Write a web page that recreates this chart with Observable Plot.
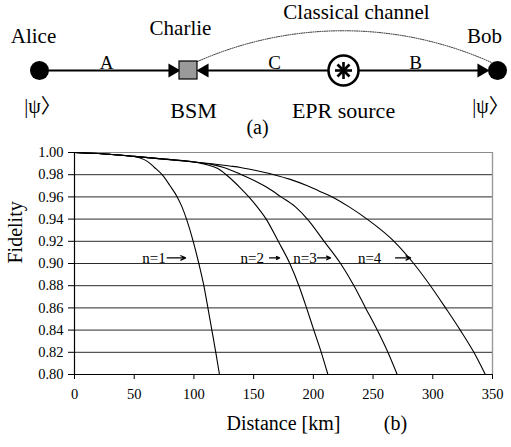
<!DOCTYPE html>
<html><head><meta charset="utf-8">
<script src="https://cdn.jsdelivr.net/npm/d3@7"></script>
<script src="https://cdn.jsdelivr.net/npm/@observablehq/plot@0.6"></script>
<style>
html,body{margin:0;padding:0;background:#fff;}
#fig{width:511px;overflow:hidden;}
#fig svg{display:block;}
#fig svg text{font-family:"Liberation Serif","Noto Sans CJK SC",serif;}
</style></head><body><div id="fig"></div>
<script>
// ---------- (b) chart data ----------
const xTicks = [0, 50, 100, 150, 200, 250, 300, 350];
const yTicks = [0.80, 0.82, 0.84, 0.86, 0.88, 0.90, 0.92, 0.94, 0.96, 0.98, 1.00];

const n1Dist = [0, 25, 40, 50, 55, 61, 67, 73.4, 80, 86, 90, 93.8, 99.4, 104.1, 108.3, 111.7, 115, 118.3, 121.4];
const n1Fid  = [1.000, 0.9987, 0.9975, 0.9964, 0.995, 0.992, 0.9865, 0.980, 0.970, 0.960, 0.951, 0.940, 0.920, 0.900, 0.880, 0.860, 0.840, 0.820, 0.800];

const n2Dist = [0, 25, 50, 75, 100, 110, 120, 127, 139, 146, 153, 160.5, 170.6, 180.3, 187.9, 194.3, 200.4, 206.6, 212.2];
const n2Fid  = [1.000, 0.9987, 0.9965, 0.994, 0.9915, 0.9893, 0.9855, 0.980, 0.968, 0.960, 0.951, 0.940, 0.920, 0.900, 0.880, 0.860, 0.840, 0.820, 0.800];

const n3Dist = [0, 25, 50, 75, 100, 115, 125, 139, 150, 162, 173, 185, 195, 209, 222.8, 234, 243.7, 253.5, 262.4, 270.2];
const n3Fid  = [1.000, 0.9987, 0.9965, 0.994, 0.9915, 0.9893, 0.9865, 0.9805, 0.975, 0.968, 0.960, 0.951, 0.940, 0.920, 0.900, 0.880, 0.860, 0.840, 0.820, 0.800];

const n4Dist = [0, 25, 50, 75, 100, 115, 130, 139, 150, 167, 180, 195, 205, 215.8, 230, 245, 257, 267.5, 284, 298, 310.7, 323, 334.4, 344];
const n4Fid  = [1.000, 0.9987, 0.9965, 0.994, 0.9915, 0.9898, 0.9878, 0.9865, 0.9842, 0.980, 0.976, 0.970, 0.9652, 0.960, 0.951, 0.940, 0.930, 0.920, 0.900, 0.880, 0.860, 0.840, 0.820, 0.800];

const seriesNames = ["n=1", "n=2", "n=3", "n=4"];
const labelDist  = [56.7, 139, 183.2, 237.3];
const arrowStart = [77.6, 163.3, 203.5, 268.8];
const arrowEnd   = [93, 171.7, 214.4, 281.4];
const labelFid = 0.905;

// ---------- (a) diagram data ----------
const topTexts = ["Alice", "Charlie", "Classical channel", "Bob"];
const topTextX = [33, 180, 356, 484];
const topTextY = [42, 34, 18, 42];
const linkNames = ["A", "C", "B"];
const linkNameX = [106, 274, 415];
const bottomTexts = ["|ψ〉", "BSM", "EPR source", "|ψ〉", "(a)"];
const bottomTextX = [42, 193, 343, 490, 257];
const bottomTextY = [112, 117, 117, 112, 133];
const bottomTextSize = [20, 22, 22, 20, 20];
const nodeX = [39, 188, 343, 497];   // Alice, Charlie (BSM), EPR source, Bob
const channelY = 70;

const serif = "'Liberation Serif', 'Noto Sans CJK SC', serif";

// ---------- build table ----------
const allDist = [n1Dist, n2Dist, n3Dist, n4Dist];
const allFid = [n1Fid, n2Fid, n3Fid, n4Fid];
const rows = [];
seriesNames.forEach((s, i) => allDist[i].forEach((d, j) => rows.push({series: s, dist: d, fid: allFid[i][j]})));
const labels = seriesNames.map((s, i) => ({s, x: labelDist[i], a1: arrowStart[i], a2: arrowEnd[i]}));

// ---------- diagram (a) ----------
const spokes = [0, 45, 90, 135].map(a => {
  const r = 8.5, t = a * Math.PI / 180;
  return {x1: nodeX[2] - r * Math.cos(t), x2: nodeX[2] + r * Math.cos(t), y1: channelY - r * Math.sin(t), y2: channelY + r * Math.sin(t)};
});
const sq = 9;
const diagram = Plot.plot({
  width: 511, height: 140,
  marginTop: 0, marginBottom: 0, marginLeft: 0, marginRight: 0,
  x: {domain: [0, 511], axis: null},
  y: {domain: [140, 0], axis: null},
  style: {fontFamily: serif, background: "white", color: "black"},
  marks: [
    // dotted classical channel
    Plot.arrow([{x1: nodeX[1] + sq, y1: channelY - sq, x2: nodeX[3] - 6, y2: channelY - 8}], {
      x1: "x1", y1: "y1", x2: "x2", y2: "y2", bend: 24, headLength: 0,
      stroke: "#222", strokeWidth: 1, strokeDasharray: "1,1.3"
    }),
    // quantum links
    Plot.link([
      {x1: nodeX[0], x2: nodeX[1] - sq - 8},
      {x1: nodeX[1] + sq + 8, x2: nodeX[2] - 15},
      {x1: nodeX[2] + 15, x2: nodeX[3] - 14}
    ], {x1: "x1", x2: "x2", y1: channelY, y2: channelY, stroke: "black", strokeWidth: 2}),
    // arrowheads
    Plot.dot([{x: nodeX[1] - sq - 7, r: 90}, {x: nodeX[1] + sq + 7, r: -90}, {x: nodeX[3] - 16, r: 90}],
      {x: "x", y: channelY, symbol: "triangle", r: 5.2, rotate: "r", fill: "black", stroke: "none"}),
    // Alice and Bob
    Plot.dot([nodeX[0], nodeX[3]], {x: d => d, y: channelY, r: 9.5, fill: "black", stroke: "none"}),
    // BSM square
    Plot.rect([nodeX[1]], {x1: d => d - sq, x2: d => d + sq, y1: channelY - sq, y2: channelY + sq, fill: "#9a9a9a", stroke: "black", strokeWidth: 1.2}),
    // EPR source
    Plot.dot([nodeX[2]], {x: d => d, y: channelY, r: 15, fill: "white", stroke: "black", strokeWidth: 2.6}),
    Plot.link(spokes, {x1: "x1", x2: "x2", y1: "y1", y2: "y2", stroke: "black", strokeWidth: 2.6}),
    // texts
    Plot.text(topTexts, {x: (d, i) => topTextX[i], y: (d, i) => topTextY[i], text: d => d, lineAnchor: "bottom", fontSize: 21, fill: "black"}),
    Plot.text(linkNames, {x: (d, i) => linkNameX[i], y: 68, text: d => d, lineAnchor: "bottom", fontSize: 19, fill: "black"}),
    Plot.text(bottomTexts, {x: (d, i) => bottomTextX[i], y: (d, i) => bottomTextY[i], text: d => d, lineAnchor: "bottom", fontSize: (d, i) => bottomTextSize[i], fill: "black"})
  ]
});

// ---------- chart (b) ----------
const chart = Plot.plot({
  width: 511, height: 307,
  marginTop: 12, marginBottom: 73, marginLeft: 74, marginRight: 19,
  x: {domain: [0, 350]},
  y: {domain: [0.80, 1.00]},
  style: {fontFamily: serif, background: "white", color: "black"},
  marks: [
    Plot.ruleY(yTicks.filter(v => v > 0.801 && v < 0.999), {y: d => d, stroke: "#2a2a2a", strokeWidth: 1}),
    Plot.ruleY([1.00], {stroke: "#8a8a8a", strokeWidth: 1.2}),
    Plot.ruleX([350], {stroke: "#9a9a9a", strokeWidth: 1.4}),
    Plot.ruleX([0], {stroke: "black", strokeWidth: 1.2}),
    Plot.ruleY([0.80], {stroke: "black", strokeWidth: 1.2}),
    Plot.axisY({ticks: yTicks, tickFormat: d3.format(".2f"), tickSize: 6, tickPadding: 5, fontSize: 14.5, label: null, stroke: "black"}),
    Plot.axisX({ticks: xTicks, tickFormat: d => String(d), tickSize: 5, tickPadding: 9, fontSize: 14.5, label: null, stroke: "black"}),
    Plot.line(rows, {x: "dist", y: "fid", z: "series", curve: "monotone-x", stroke: "black", strokeWidth: 1.1}),
    Plot.text(labels, {x: "x", y: labelFid, text: "s", textAnchor: "start", fontSize: 15, fill: "black"}),
    Plot.arrow(labels, {x1: "a1", x2: "a2", y1: labelFid, y2: labelFid, stroke: "black", strokeWidth: 1.3, headLength: 6, headAngle: 50}),
    Plot.text(["Fidelity"], {frameAnchor: "left", dx: -59, rotate: -90, fontSize: 20, fill: "black"}),
    Plot.text(["Distance [km]"], {frameAnchor: "bottom", dy: 55, fontSize: 20, fill: "black"}),
    Plot.text(["(b)"], {frameAnchor: "bottom", dx: 112, dy: 55, fontSize: 20, fill: "black"})
  ]
});

const fig = document.getElementById("fig");
fig.appendChild(diagram);
fig.appendChild(chart);
</script>
</body></html>
